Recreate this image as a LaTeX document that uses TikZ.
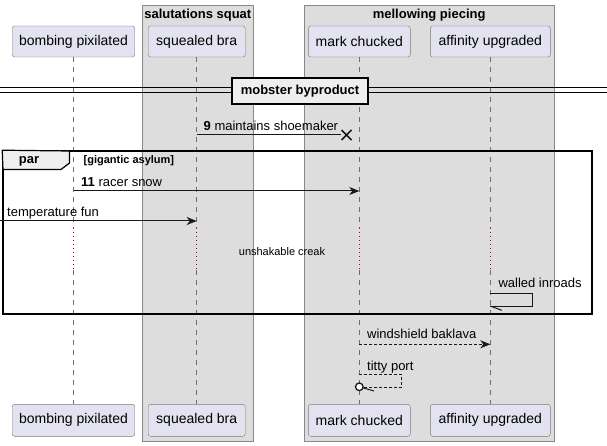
\documentclass[tikz,border=0pt]{standalone}
\usepackage{fontspec}
\setmainfont{Liberation Sans}
\usetikzlibrary{arrows.meta}
\definecolor{pfill}{HTML}{E2E2F0}
\definecolor{pborder}{HTML}{7A7A7A}
\definecolor{gfill}{HTML}{DDDDDD}
\definecolor{gborder}{HTML}{888888}
\definecolor{lifegray}{HTML}{6E6E6E}
\definecolor{delayred}{HTML}{A80036}
\definecolor{tabfill}{HTML}{EEEEEE}
\definecolor{msg}{HTML}{181818}
\begin{document}
\begin{tikzpicture}[x=1pt,y=-1pt,
  part/.style={draw=pborder, fill=pfill, rounded corners=2.5pt, minimum height=31pt, inner sep=0pt, font=\fontsize{14}{16}\selectfont},
  grouptitle/.style={font=\bfseries\fontsize{13}{15}\selectfont, inner sep=0pt},
  lifeline/.style={draw=lifegray, line width=0.8pt, dash pattern=on 5pt off 5pt},
  delayline/.style={draw=delayred, line width=0.9pt, dash pattern=on 1pt off 3pt},
  msgline/.style={draw=msg, line width=1pt},
  dashmsg/.style={draw=msg, line width=1pt, dash pattern=on 3pt off 2pt},
  arrowhead/.style={-{Stealth[length=10pt,width=8pt,inset=3pt]}},
  lbl/.style={font=\fontsize{13}{15}\selectfont, inner sep=0pt, anchor=base west},
  small/.style={font=\fontsize{11}{13}\selectfont, inner sep=0pt}
]
\useasboundingbox[fill=white] (0,0) rectangle (607,446);

% group boxes
\node[draw=gborder, fill=gfill, line width=1pt, minimum width=111.7pt, minimum height=435pt, inner sep=0pt] (gsal) at (197.85,223.5) {};
\node[grouptitle] (gsalt) at (197.85,15) {salutations squat};
\node[draw=gborder, fill=gfill, line width=1pt, minimum width=250.3pt, minimum height=435pt, inner sep=0pt] (gmel) at (429.15,223.5) {};
\node[grouptitle] (gmelt) at (429.15,15) {mellowing piecing};

% participants
\node[part, minimum width=122.5pt] (bpT) at (73.5,41.5) {bombing pixilated};
\node[part, minimum width=97pt] (sbT) at (196.7,41.5) {squealed bra};
\node[part, minimum width=102pt] (mcT) at (359.3,41.5) {mark chucked};
\node[part, minimum width=120pt] (auT) at (490.3,41.5) {affinity upgraded};
\node[part, minimum width=122.5pt, minimum height=32pt] (bpB) at (73.5,420.3) {bombing pixilated};
\node[part, minimum width=97pt, minimum height=32pt] (sbB) at (196.7,420.3) {squealed bra};
\node[part, minimum width=102pt, minimum height=32pt] (mcB) at (359.3,420.3) {mark chucked};
\node[part, minimum width=120pt, minimum height=32pt] (auB) at (490.3,420.3) {affinity upgraded};

% lifelines with delay
\foreach \p in {bp,sb,mc,au}{
  \coordinate (\p d1) at (\p T.south |- 0,228);
  \coordinate (\p d2) at (\p T.south |- 0,270);
  \draw[lifeline] (\p T.south) -- (\p d1);
  \draw[delayline] (\p d1) -- (\p d2);
  \draw[lifeline] (\p d2) -- (\p B.north);
}

% divider
\coordinate (dl) at (0,88);
\coordinate (dr) at (607,88);
\coordinate (dl2) at (0,93);
\coordinate (dr2) at (607,93);
\draw[line width=1pt] (dl) -- (dr);
\draw[line width=1pt] (dl2) -- (dr2);
\node[draw=black, fill=tabfill, line width=1.6pt, minimum width=136pt, minimum height=26pt, inner sep=0pt, font=\bfseries\fontsize{13}{15}\selectfont] (div) at (300,91) {mobster byproduct};

% message 9 (lost with X)
\coordinate (m9a) at (sbT.south |- 0,135);
\coordinate (m9b) at (341,135);
\coordinate (x9) at (346.5,135);
\draw[msgline] (m9a) -- (m9b);
\draw[msg, line width=1.6pt] ([shift={(-5,-5)}]x9) -- ([shift={(5,5)}]x9) ([shift={(-5,5)}]x9) -- ([shift={(5,-5)}]x9);
\node[lbl] (l9) at (203.5,131) {\textbf{9} maintains shoemaker};

% par frame
\node[draw=black, line width=1.6pt, minimum width=588.7pt, minimum height=163pt, inner sep=0pt] (par) at (297.35,232.5) {};
\filldraw[draw=black, fill=tabfill, line width=1.2pt] (par.north west) -- (69.5,151) -- (69.5,163) -- (61,169.5) -- (3,169.5) -- cycle;
\node[grouptitle] (part) at (29,161) {par};
\node[small, font=\bfseries\fontsize{11}{13}\selectfont, anchor=base west] (pcond) at (83.5,164) {[gigantic asylum]};

% message 11
\coordinate (m11a) at (bpT.south |- 0,191);
\coordinate (m11b) at (mcT.south |- 0,191);
\draw[msgline, arrowhead] (m11a) -- (m11b);
\node[lbl] (l11) at (81,187) {\textbf{11} racer snow};

% temperature fun
\coordinate (tfa) at (0,221);
\coordinate (tfb) at (sbT.south |- 0,221);
\draw[msgline, arrowhead] (tfa) -- (tfb);
\node[lbl] (ltf) at (7,216.5) {temperature fun};

% delay text
\node[small] (delay) at (282,251.5) {unshakable creak};

% walled inroads
\coordinate (wia) at (auT.south |- 0,293.3);
\coordinate (wib) at (auT.south |- 0,306);
\coordinate (wic) at (501.7,310.3);
\draw[msgline] (wia) -- (532.3,293.3) -- (532.3,306) -- (wib);
\draw[msgline] (wib) -- (wic);
\node[lbl] (lwi) at (498.3,287.5) {walled inroads};

% windshield baklava
\coordinate (wba) at (mcT.south |- 0,344.3);
\coordinate (wbb) at (auT.south |- 0,344.3);
\draw[dashmsg, arrowhead] (wba) -- (wbb);
\node[lbl] (lwb) at (367,338.5) {windshield baklava};

% titty port
\coordinate (tpa) at (mcT.south |- 0,374);
\coordinate (tpb) at (363.3,387.3);
\coordinate (tpc) at (mcT.south |- 0,386.8);
\coordinate (tpd) at (374,391);
\draw[dashmsg] (tpa) -- (401.7,374) -- (401.7,387.3) -- (tpb);
\draw[msgline] (tpc) -- (tpd);
\draw[msg, line width=1.3pt, fill=white] (tpc) circle (3.8pt);
\node[lbl] (ltp) at (367,370) {titty port};
\end{tikzpicture}
\end{document}
